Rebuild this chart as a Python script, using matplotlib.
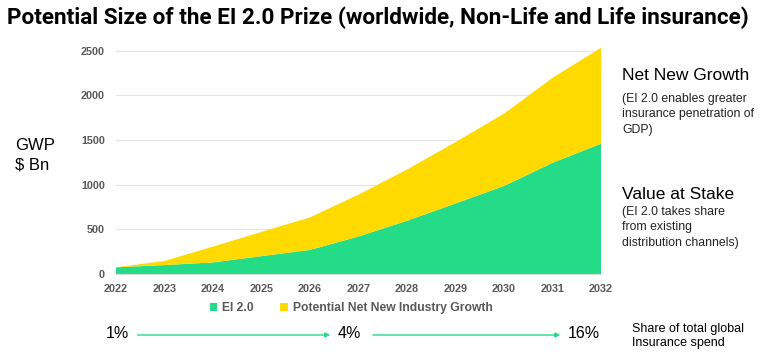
import matplotlib
matplotlib.use("Agg")
from matplotlib import pyplot as plt

years = [2022, 2023, 2024, 2025, 2026, 2027, 2028, 2029, 2030, 2031, 2032]
ei_value = [75, 100, 130, 200, 270, 420, 596, 790, 986, 1245, 1459]
total_value = [75, 146, 307, 472, 634, 889, 1170, 1477, 1796, 2197, 2534]
growth_value = [t - e for t, e in zip(total_value, ei_value)]
yticks = [0, 500, 1000, 1500, 2000, 2500]
share_labels = ["1%", "4%", "16%"]

GREEN = "#24dc87"
YELLOW = "#ffda00"
GREY = "#595959"

W, H = 761, 357
fig = plt.figure(figsize=(W / 100, H / 100), dpi=100)
plt.rcParams["font.family"] = ["Liberation Sans", "DejaVu Sans"]

ax = fig.add_axes([116 / W, 1 - 274 / H, (601 - 116) / W, (274 - 45) / H])
ax.stackplot(years, ei_value, growth_value, colors=[GREEN, YELLOW],
             labels=["EI 2.0", "Potential Net New Industry Growth"], linewidth=0)
ax.set_xlim(2022, 2032)
ax.set_ylim(0, 2565)
ax.set_xticks(years)
ax.set_yticks(yticks)
ax.tick_params(length=0, labelsize=7.8, labelcolor=GREY)
ax.tick_params(axis="x", pad=7)
ax.tick_params(axis="y", pad=8)
for lab in ax.get_xticklabels() + ax.get_yticklabels():
    lab.set_fontweight("bold")
ax.grid(axis="y", color="#e6e6e6", linewidth=0.8)
ax.set_axisbelow(True)
for s in ["top", "right", "left"]:
    ax.spines[s].set_visible(False)
ax.spines["bottom"].set_color("#d9d9d9")

leg = ax.legend(loc="center", bbox_to_anchor=(0.485, -0.15), ncol=2, frameon=False,
                fontsize=8.7, handlelength=0.6, handleheight=0.6, handletextpad=0.4,
                columnspacing=2.2, borderaxespad=0)
for t in leg.get_texts():
    t.set_color(GREY)
    t.set_fontweight("bold")

fig.text(7 / W, 1 - 18 / H, "Potential Size of the EI 2.0 Prize (worldwide, Non-Life and Life insurance)",
         fontsize=16.2, fontweight="bold", va="center", ha="left", family=["Roboto", "DejaVu Sans"])
fig.text(15 / W, 1 - 155 / H, "GWP\n$ Bn", fontsize=12, va="center", ha="left", linespacing=1.35)

fig.text(622 / W, 1 - 75 / H, "Net New Growth", fontsize=12.5, va="center", ha="left")
fig.text(622 / W, 1 - 93 / H, "(EI 2.0 enables greater\ninsurance penetration of\nGDP)",
         fontsize=8.8, va="top", ha="left", linespacing=1.38, color="#222222")
fig.text(622 / W, 1 - 195 / H, "Value at Stake", fontsize=12.5, va="center", ha="left")
fig.text(622 / W, 1 - 206 / H, "(EI 2.0 takes share\nfrom existing\ndistribution channels)",
         fontsize=8.8, va="top", ha="left", linespacing=1.38, color="#222222")

share_x = [117, 349, 584]
for x, lab in zip(share_x, share_labels):
    fig.text(x / W, 1 - 334 / H, lab, fontsize=11.5, ha="center", va="center")
for x0, x1 in [(135, 333), (370, 563)]:
    fig.add_artist(matplotlib.patches.FancyArrowPatch(
        (x0 / W, 1 - 335 / H), (x1 / W, 1 - 335 / H), transform=fig.transFigure,
        arrowstyle="-|>", mutation_scale=7, color=GREEN, linewidth=1))
fig.text(632 / W, 1 - 336 / H, "Share of total global\nInsurance spend", fontsize=9,
         ha="left", va="center", linespacing=1.3)

fig.savefig("out.png", dpi=100)
